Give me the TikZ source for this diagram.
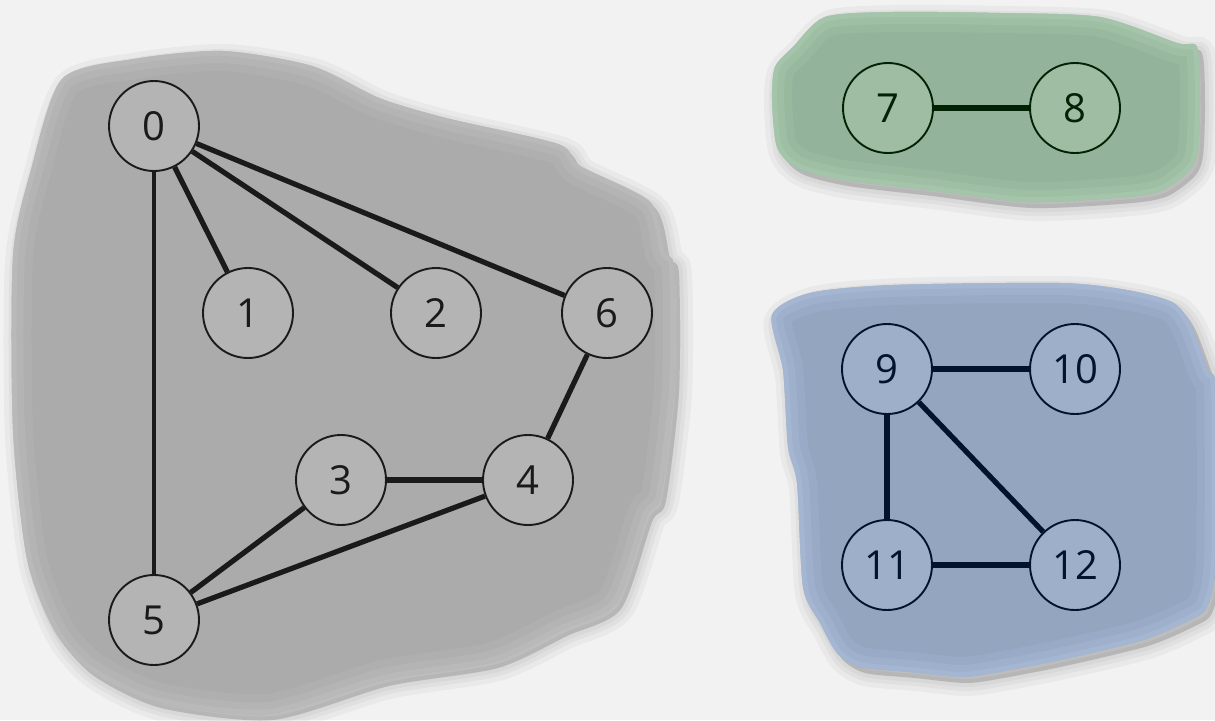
\documentclass[tikz,border=0pt]{standalone}
\usepackage{fontspec}
\setmainfont{Open Sans}
\definecolor{bg}{HTML}{F2F2F2}
\definecolor{gblob}{HTML}{ABABAB}
\definecolor{grim}{HTML}{BEBEBE}
\definecolor{gnode}{HTML}{B4B4B4}
\definecolor{gline}{HTML}{1A1A1A}
\definecolor{vblob}{HTML}{93B39A}
\definecolor{vrim}{HTML}{ABCBB1}
\definecolor{vnode}{HTML}{9EBDA3}
\definecolor{vline}{HTML}{022204}
\definecolor{bblob}{HTML}{93A5BF}
\definecolor{brim}{HTML}{AABCD7}
\definecolor{bnode}{HTML}{9EB0C9}
\definecolor{bline}{HTML}{00142E}
\newcommand\grayshape{plot[smooth cycle, tension=0.45] coordinates {(62,79) (134,59) (223,51) (312,66) (379,98) (446,118) (558,144) (580,166) (650,202) (665,252) (674,268) (674,386) (661,495) (647,516) (616,603) (562,630) (493,662) (384,680) (268,714) (156,702) (89,670) (54,630) (27,559) (13,430) (13,256) (31,170)}}
\newcommand\greenshape{plot[smooth cycle, tension=0.45] coordinates {(825,17) (893,12) (1000,13) (1100,17) (1177,43) (1197,47) (1200,97) (1198,150) (1190,170) (1163,190) (1127,197) (1027,202) (927,190) (843,180) (797,168) (777,147) (772,100) (775,67) (793,47)}}
\newcommand\blueshape{plot[smooth cycle, tension=0.45] coordinates {(772,315) (810,293) (893,285) (1060,283) (1127,290) (1172,302) (1190,323) (1208,370) (1216,390) (1216,560) (1207,607) (1190,620) (1143,640) (1060,660) (993,673) (960,677) (910,672) (860,667) (837,653) (820,623) (803,587) (797,483) (788,447) (783,370)}}
\tikzset{
  vtx/.style={circle, minimum size=90pt, inner sep=0pt, line width=1.9pt,
    font=\fontsize{40}{40}\selectfont},
  gvtx/.style={vtx, draw=gline, fill=gnode, text=gline},
  vvtx/.style={vtx, draw=vline, fill=vnode, text=vline},
  bvtx/.style={vtx, draw=bline, fill=bnode, text=bline},
  glink/.style={line width=5.2pt, draw=gline},
  vlink/.style={line width=5.2pt, draw=vline},
  blink/.style={line width=5.2pt, draw=bline},
  shadowpart/.style={draw=black, fill=black, draw opacity=0.035, fill opacity=0.05},
}
\newcommand\softblob[3]{%
  \begin{scope}[shift={(5,6)}]
    \path[shadowpart, line width=26pt] #1;
    \path[shadowpart, line width=16pt] #1;
    \path[shadowpart, line width=8pt] #1;
  \end{scope}
  \fill[#2] #1;
  \begin{scope}
    \clip #1;
    \draw[#3, line width=40pt, opacity=0.25] #1;
    \draw[#3, line width=24pt, opacity=0.35] #1;
    \draw[#3, line width=10pt, opacity=0.5] #1;
  \end{scope}}
\begin{document}
\begin{tikzpicture}[x=1pt, y=-1pt]
\useasboundingbox (0,0) rectangle (1215,720);
\fill[bg] (0,0) rectangle (1215,720);
\softblob{\grayshape}{gblob}{grim}
\softblob{\greenshape}{vblob}{vrim}
\softblob{\blueshape}{bblob}{brim}
% gray component
\node[gvtx] (n0) at (154,126) {0};
\node[gvtx] (n1) at (248,313) {1};
\node[gvtx] (n2) at (436,313) {2};
\node[gvtx] (n6) at (607,313) {6};
\node[gvtx] (n3) at (341,480) {3};
\node[gvtx] (n4) at (528,480) {4};
\node[gvtx] (n5) at (154,620) {5};
\draw[glink, line width=4.2pt] (n0) -- (n5);
\draw[glink] (n0) -- (n1);
\draw[glink] (n0) -- (n2);
\draw[glink] (n0) -- (n6);
\draw[glink] (n6) -- (n4);
\draw[glink] (n3) -- (n4);
\draw[glink] (n5) -- (n3);
\draw[glink] (n5) -- (n4);
% green component
\node[vvtx] (n7) at (888,108) {7};
\node[vvtx] (n8) at (1075,108) {8};
\draw[vlink] (n7) -- (n8);
% blue component
\node[bvtx] (n9) at (887,369) {9};
\node[bvtx] (n10) at (1075,369) {10};
\node[bvtx] (n11) at (887,565) {11};
\node[bvtx] (n12) at (1075,565) {12};
\draw[blink] (n9) -- (n10);
\draw[blink] (n9) -- (n11);
\draw[blink] (n9) -- (n12);
\draw[blink] (n11) -- (n12);
\end{tikzpicture}
\end{document}
